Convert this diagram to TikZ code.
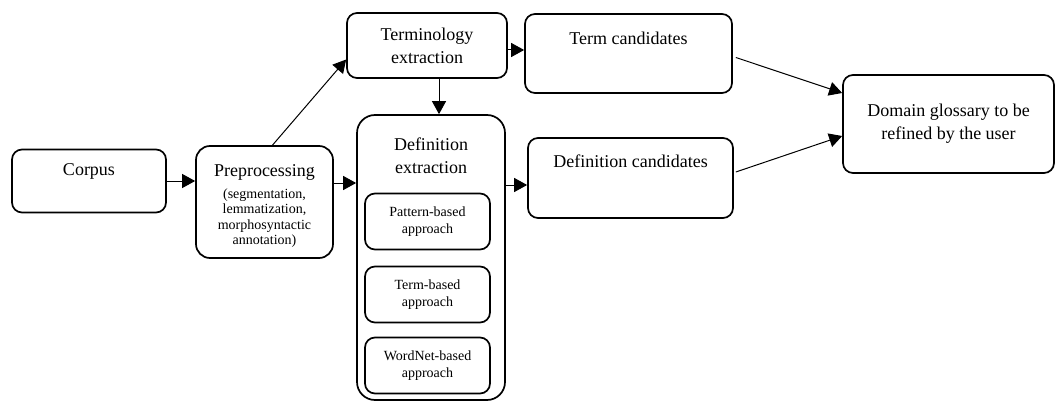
\documentclass[tikz,border=0pt]{standalone}
\usepackage{fontspec}
\setmainfont{Liberation Serif}
\usetikzlibrary{arrows.meta,calc}
\begin{document}
\begin{tikzpicture}[x=1pt,y=-1pt,font=\fontsize{18}{23}\selectfont,
  box/.style={draw,line width=1.7pt,rounded corners=10pt,inner sep=0pt,align=center},
  subbox/.style={box,minimum width=125pt,minimum height=56pt,font=\fontsize{14}{17}\selectfont},
  arr/.style={line width=1pt,-{Triangle[length=13pt,width=14pt]}}]
  \useasboundingbox (0,0) rectangle (1056,406);
  \node[box,minimum width=154pt,minimum height=63pt,label={[yshift=10pt]center:Corpus}] (corpus) at (89,181) {};
  \node[box,rounded corners=14pt,minimum width=137pt,minimum height=112pt,font=\fontsize{14}{15.5}\selectfont] (preproc) at (264.5,202)
    {{\fontsize{18}{23}\selectfont\rule{0pt}{20pt}Preprocessing}\\[6pt](segmentation,\\lemmatization,\\morphosyntactic\\annotation)};
  \node[box,minimum width=160pt,minimum height=65pt] (termex) at (427,45.5) {Terminology\\extraction};
  \node[box,minimum width=207pt,minimum height=79pt,label={[yshift=15pt]center:Term candidates}] (termcand) at (628.5,53.5) {};
  \node[box,rounded corners=18pt,minimum width=148pt,minimum height=285pt,
    label={[yshift=102pt,align=center]center:Definition\\extraction}] (defex) at (431,257.5) {};
  \node[subbox] (pattern) at (427.5,221.5) {Pattern-based\\approach};
  \node[subbox] (termbased) at (427.5,294.5) {Term-based\\approach};
  \node[subbox] (wordnet) at (427.5,365.5) {WordNet-based\\approach};
  \node[box,minimum width=205pt,minimum height=80pt,label={[yshift=17pt]center:Definition candidates}] (defcand) at (630.5,178) {};
  \node[box,minimum width=211pt,minimum height=98pt] (gloss) at (948.5,124) {Domain glossary to be\\refined by the user};
  \draw[arr] (corpus.east) -- (preproc.west |- corpus.east);
  \draw[arr] (preproc.east |- 0,183) -- (defex.west |- 0,183);
  \draw[arr] ($(preproc.north)+(8,0)$) -- ($(termex.west)+(0,14)$);
  \draw[arr] ($(termex.south)+(12,0)$) coordinate (td) -- (td |- defex.north);
  \draw[arr] ($(termex.east)+(0,4.5)$) -- ($(termcand.west)+(0,-3.5)$);
  \draw[arr] (defex.east |- 0,185) -- (defcand.west |- 0,185);
  \draw[arr] ($(termcand.east)+(3,4)$) -- ($(gloss.west)+(0,-31)$);
  \draw[arr] ($(defcand.east)+(2,-6)$) -- ($(gloss.west)+(0,12)$);
\end{tikzpicture}
\end{document}
